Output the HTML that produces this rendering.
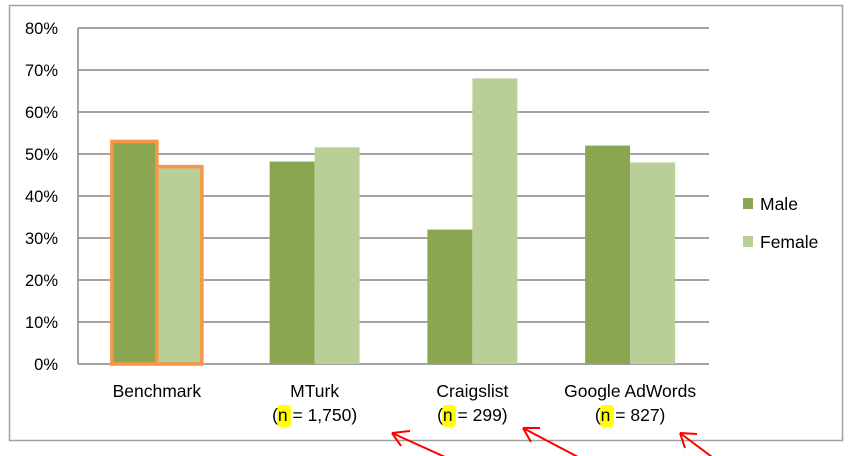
<!DOCTYPE html>
<html><head><meta charset="utf-8"><style>
html,body{margin:0;padding:0;background:#fff;width:855px;height:456px;overflow:hidden}
svg text{font-family:"Liberation Sans",sans-serif;font-size:17.5px;fill:#000}
svg text.yt{font-size:16.5px}
</style></head><body>
<svg id="chart" width="855" height="456">
<rect x="9.5" y="5.5" width="833" height="435" fill="#fff" stroke="#a0a0a0" stroke-width="1.5"/>
<g id="grid"></g><g id="bars"></g><g id="labels"></g>
<g>
<rect x="743" y="198" width="10" height="11" fill="#8aa650"/>
<text x="760" y="210">Male</text>
<rect x="743" y="236" width="10" height="11" fill="#b9cf97"/>
<text x="760" y="248">Female</text>
</g>
<g stroke="#ff0000" stroke-width="2" fill="none">
<path d="M445,457 L392,433 M392,433 L410,431 M392,433 L401,446"/>
<path d="M578,457 L523,428 M523,428 L540,428 M523,428 L531,442"/>
<path d="M712,457 L680,433 M680,433 L697,434 M680,433 L685,448"/>
</g>
</svg>
<script>
const categories=["Benchmark","MTurk","Craigslist","Google AdWords"];
const subLabels=["","1,750","299","827"];
const male=[53,48.2,32,52];
const female=[47,51.6,68,48];
const yTicks=[0,10,20,30,40,50,60,70,80];
const NS="http://www.w3.org/2000/svg";
const X0=78,X1=709,Y0=364,Y1=28,YMAX=80;
const y=v=>Y0-(v/YMAX)*(Y0-Y1);
const gw=(X1-X0)/categories.length;
const cx=i=>X0+gw*(i+0.5);
const bw=45;
function mk(tag,attrs,parent,txt){const e=document.createElementNS(NS,tag);for(const k in attrs)e.setAttribute(k,attrs[k]);if(txt!==undefined)e.textContent=txt;parent.appendChild(e);return e;}
const grid=document.getElementById('grid'),bars=document.getElementById('bars'),labels=document.getElementById('labels');
yTicks.forEach(t=>{
 const l=mk('line',{x1:X0,x2:X1,y1:y(t),y2:y(t),stroke:'#868686','stroke-width':1.5},grid);
 
 
 const tx=mk('text',{x:58,y:y(t)+6,'text-anchor':'end','class':'yt'},labels,t+'%');
 
 
});
const ax=mk('line',{x1:X0,x2:X0,y1:Y1,y2:Y0,stroke:'#868686','stroke-width':1.5},grid);


categories.forEach((c,i)=>{
 const hl=i===0;
 const m=mk('rect',{x:cx(i)-bw,y:y(male[i]),width:bw,height:Y0-y(male[i]),fill:'#8aa650'},bars);
 
 
 const f=mk('rect',{x:cx(i),y:y(female[i]),width:bw,height:Y0-y(female[i]),fill:'#b9cf97'},bars);
 
 
 if(hl){[m,f].forEach(r=>{r.setAttribute('stroke','#f79646');r.setAttribute('stroke-width','3.5');});}
 const t=mk('text',{x:cx(i),y:397,'text-anchor':'middle'},labels,c);
 
 
 if(subLabels[i]){
  const s='(n = '+subLabels[i]+')';
  const g=mk('g',{},labels);
  
  
  const st=mk('text',{x:cx(i),y:421,'text-anchor':'middle'},g,s);
  const w=st.getComputedTextLength();
  const left=cx(i)-w/2;
  const hlr=mk('rect',{x:left+5,y:405,width:14,height:22,rx:4,fill:'#ffff00'},g);
  g.insertBefore(hlr,st);
 }
});
</script>
</body></html>
